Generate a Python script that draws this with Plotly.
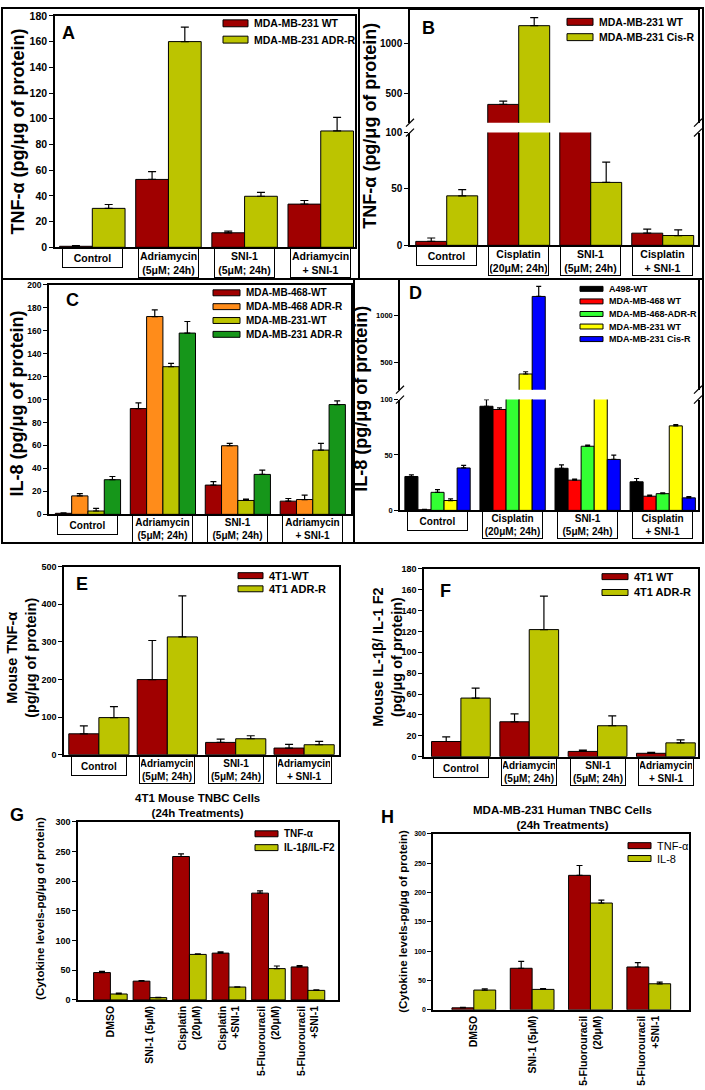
import plotly.graph_objects as go

W, H = 705, 1090
FONT = "Liberation Sans, Arial, Helvetica, sans-serif"

RED = "#A00000"
OLIVE = "#BCC400"

# ---------------- data ----------------
cat_adr = ["Control", "Adriamycin<br>(5μM; 24h)", "SNI-1<br>(5μM; 24h)", "Adriamycin<br>+ SNI-1"]
cat_cis = ["Control", "Cisplatin<br>(20μM; 24h)", "SNI-1<br>(5μM; 24h)", "Cisplatin<br>+ SNI-1"]
cat_g = ["DMSO", "SNI-1 (5μM)", "Cisplatin<br>(20μM)", "Cisplatin<br>+SNI-1",
         "5-Fluorouracil<br>(20μM)", "5-Fluorouracil<br>+SNI-1"]
cat_h = ["DMSO", "SNI-1 (5μM)", "5-Fluorouracil<br>(20μM)", "5-Fluorouracil<br>+SNI-1"]

# A: TNF-a, MDA-MB-231 WT vs ADR-R
a_wt = [0.8, 52.8, 11.3, 33.6]
a_wt_err = [0.5, 6.0, 1.3, 2.8]
a_adr = [30.3, 160.0, 39.7, 90.5]
a_adr_err = [3.0, 11.3, 3.0, 10.5]

# B: TNF-a, MDA-MB-231 WT vs Cis-R
b_wt = [3.5, 385, 150, 10.8]
b_wt_err = [3.0, 33, 10, 3.5]
b_cis = [43.9, 1181, 55.8, 8.7]
b_cis_err = [5.5, 82, 18, 5.0]

# C: IL-8
c_468wt = [0.9, 92.2, 25.5, 11.5]
c_468wt_err = [0.3, 4.9, 3.0, 2.3]
c_468adr = [16.1, 172.4, 59.8, 12.9]
c_468adr_err = [2.0, 5.8, 2.0, 3.8]
c_231wt = [2.9, 128.7, 12.1, 56.0]
c_231wt_err = [2.3, 2.9, 1.1, 5.8]
c_231adr = [30.2, 158.0, 34.8, 95.7]
c_231adr_err = [2.8, 10.1, 3.7, 3.2]

# D: IL-8, cisplatin
d_a498 = [30.6, 94.0, 38.0, 25.8]
d_a498_err = [1.5, 6.0, 3.0, 3.0]
d_468wt = [0.6, 91.1, 27.3, 12.8]
d_468wt_err = [0.3, 1.5, 1.0, 1.0]
d_468adr = [16.3, 150, 57.9, 15.1]
d_468adr_err = [2.4, 5, 1.0, 0.8]
d_231wt = [8.9, 377, 150, 76.3]
d_231wt_err = [1.5, 24, 5, 1.2]
d_231cis = [38.3, 1200, 46.0, 11.3]
d_231cis_err = [2.4, 106, 3.9, 1.2]

# E: mouse TNF-a
e_wt = [55.5, 199.8, 32.6, 17.6]
e_wt_err = [21, 104, 9, 9.7]
e_adr = [98.6, 313.4, 42.3, 26.4]
e_adr_err = [29, 109, 8, 8.8]

# F: mouse IL-1b / IL-1 F2
f_wt = [14.5, 33.4, 5.0, 3.2]
f_wt_err = [4.4, 7.6, 1.3, 1.0]
f_adr = [56.1, 121.7, 29.6, 13.2]
f_adr_err = [9.5, 32, 9.5, 2.9]

# G: 4T1 cells
g_tnf = [46.1, 31.7, 241.7, 78.9, 180.0, 55.6]
g_tnf_err = [2.2, 1.1, 4.4, 2.2, 3.9, 2.2]
g_il1 = [10.0, 3.9, 76.7, 21.7, 52.8, 16.1]
g_il1_err = [1.7, 0.5, 1.1, 0.5, 4.4, 1.1]

# H: MDA-MB-231 cells
h_tnf = [3.4, 70.8, 229.2, 73.0]
h_tnf_err = [1.0, 11.8, 16.8, 7.3]
h_il8 = [33.7, 34.8, 182.0, 44.4]
h_il8_err = [2.2, 1.2, 5.0, 2.8]


def fx(x):
    return x / W


def fy(y):
    return 1 - y / H


def names(n):
    s = "" if n == 1 else str(n)
    return "x" + s, "y" + s, "xaxis" + s, "yaxis" + s


fig = go.Figure()
layout = {}


def bars(n, cats, series, group_w, cap=4):
    xr, yr, _, _ = names(n)
    w = group_w / len(series)
    for i, (name, vals, errs, color) in enumerate(series):
        fig.add_trace(go.Bar(
            x=cats, y=vals, width=w, offset=-group_w / 2 + i * w, name=name,
            marker=dict(color=color, line=dict(color="black", width=1)),
            error_y=dict(type="data", symmetric=False, array=errs,
                         arrayminus=[0] * len(errs), color="black",
                         thickness=1.2, width=cap),
            xaxis=xr, yaxis=yr, showlegend=False))


def axes(n, xpx, ypx, xrange, yrange, cats, tickvals, tsize, xline="box",
         xlabels=False, xsize=10):
    xr, yr, xk, yk = names(n)
    xa = dict(domain=[fx(xpx[0]), fx(xpx[1])], range=xrange, anchor=yr,
              type="category", categoryorder="array", categoryarray=cats,
              showline=True, linecolor="black", linewidth=1.5,
              mirror=(xline == "box"), showgrid=False, zeroline=False,
              ticks="", showticklabels=xlabels, fixedrange=True)
    if xline == "top":
        xa["side"] = "top"
    if xlabels:
        xa.update(tickangle=-90, tickfont=dict(family=FONT, size=xsize, color="black", weight="bold"))
    layout[xk] = xa
    layout[yk] = dict(domain=[fy(ypx[1]), fy(ypx[0])], range=yrange, anchor=xr,
                      showline=True, linecolor="black", linewidth=1.5, mirror=True,
                      showgrid=False, zeroline=False, ticks="outside", ticklen=4,
                      tickwidth=1, tickcolor="black", tickvals=tickvals,
                      tickfont=dict(family=FONT, size=tsize, color="black", weight="bold"),
                      fixedrange=True)


def cat_boxes(n, cats, ytop, box_w, size=10.5):
    xr = names(n)[0]
    for c in cats:
        one = "<br>" not in c
        fig.add_annotation(
            xref=xr, yref="paper", x=c, y=fy(ytop), text=c, showarrow=False,
            xanchor="center", yanchor="top", width=box_w,
            height=16 if one else None, bordercolor="black", borderwidth=1,
            borderpad=1, bgcolor="white", align="center",
            font=dict(family=FONT, size=size, color="black", weight="bold"))


def legend(x0, y0, dy, entries, size, sw=25, sh=7, bold=True):
    for i, (name, color) in enumerate(entries):
        yc = y0 + i * dy
        fig.add_shape(type="rect", xref="paper", yref="paper",
                      x0=fx(x0), x1=fx(x0 + sw), y0=fy(yc + sh / 2), y1=fy(yc - sh / 2),
                      fillcolor=color, line=dict(color="black", width=1))
        fig.add_annotation(xref="paper", yref="paper", x=fx(x0 + sw + 4), y=fy(yc),
                           text=name, showarrow=False, xanchor="left", yanchor="middle",
                           font=dict(family=FONT, size=size, color="black",
                                     weight="bold" if bold else "normal"))


def text(x, y, s, size, angle=0, bold=True):
    fig.add_annotation(xref="paper", yref="paper", x=fx(x), y=fy(y), text=s,
                       showarrow=False, xanchor="center", yanchor="middle",
                       textangle=angle, align="center",
                       font=dict(family=FONT, size=size, color="black",
                                 weight="bold" if bold else "normal"))


def break_marks(xs, ys):
    for x in xs:
        for y in ys:
            fig.add_shape(type="line", xref="paper", yref="paper",
                          x0=fx(x - 4), y0=fy(y + 4), x1=fx(x + 4), y1=fy(y - 4),
                          line=dict(color="black", width=1.2))


# ---------------- panel A ----------------
sA = [("MDA-MB-231 WT", a_wt, a_wt_err, RED), ("MDA-MB-231 ADR-R", a_adr, a_adr_err, OLIVE)]
bars(1, cat_adr, sA, 0.86)
axes(1, (55, 355), (10, 244), [-0.49, 3.45], [0, 180], cat_adr, list(range(0, 181, 20)), 10.5)
cat_boxes(1, cat_adr, 245, 57)
legend(223, 17.5, 16.5, [(s[0], s[3]) for s in sA], 10.5)
text(68, 27, "A", 18)
text(18, 127, "TNF-α (pg/μg of protein)", 18, -90)

# ---------------- panel B (broken axis) ----------------
sB = [("MDA-MB-231 WT", b_wt, b_wt_err, RED), ("MDA-MB-231 Cis-R", b_cis, b_cis_err, OLIVE)]
bars(2, cat_cis, sB, 0.86)
bars(3, cat_cis, sB, 0.86)
axes(2, (410, 698), (128, 242), [-0.51, 3.49], [0, 100], cat_cis, [0, 50, 100], 10, xline="bottom")
axes(3, (410, 698), (4, 118), [-0.51, 3.49], [200, 1340], cat_cis, [500, 1000], 10, xline="top")
cat_boxes(2, cat_cis, 243, 57)
break_marks([410, 698], [128, 118])
legend(567, 16, 15.5, [(s[0], s[3]) for s in sB], 10.5, sw=26)
text(428, 22, "B", 18)
text(370, 121, "TNF-α (pg/μg of protein)", 18, -90)

# ---------------- panel C ----------------
sC = [("MDA-MB-468-WT", c_468wt, c_468wt_err, RED),
      ("MDA-MB-468 ADR-R", c_468adr, c_468adr_err, "#FF8C1A"),
      ("MDA-MB-231-WT", c_231wt, c_231wt_err, OLIVE),
      ("MDA-MB-231 ADR-R", c_231adr, c_231adr_err, "#16961A")]
bars(4, cat_adr, sC, 0.87, cap=3)
axes(4, (49, 351), (282, 514), [-0.52, 3.51], [0, 200], cat_adr, list(range(0, 201, 20)), 8.5)
cat_boxes(4, cat_adr, 515, 57, 10)
legend(213, 290, 14, [(s[0], s[3]) for s in sC], 10, sw=27, sh=6)
text(72, 297, "C", 18)
text(17, 402, "IL-8 (pg/μg of protein)", 18, -90)

# ---------------- panel D (broken axis) ----------------
sD = [("A498-WT", d_a498, d_a498_err, "black"),
      ("MDA-MB-468 WT", d_468wt, d_468wt_err, "#FF0000"),
      ("MDA-MB-468-ADR-R", d_468adr, d_468adr_err, "#33FF33"),
      ("MDA-MB-231 WT", d_231wt, d_231wt_err, "#FFFF00"),
      ("MDA-MB-231 Cis-R", d_231cis, d_231cis_err, "#0000FF")]
bars(5, cat_cis, sD, 0.87, cap=2.5)
bars(6, cat_cis, sD, 0.87, cap=2.5)
axes(5, (400, 698), (398, 510), [-0.5, 3.47], [0, 100], cat_cis, [0, 50, 100], 7.5, xline="bottom")
axes(6, (400, 698), (277, 388), [-0.5, 3.47], [210, 1375], cat_cis, [500, 1000], 7.5, xline="top")
cat_boxes(5, cat_cis, 511, 57, 10)
break_marks([400, 698], [398, 388])
legend(580, 286, 12.7, [(s[0], s[3]) for s in sD], 9, sw=23, sh=5)
text(415, 290, "D", 18)
text(361, 397, "IL-8 (pg/μg of protein)", 18, -90)

# ---------------- panel E ----------------
sE = [("4T1-WT", e_wt, e_wt_err, RED), ("4T1 ADR-R", e_adr, e_adr_err, OLIVE)]
bars(7, cat_adr, sE, 0.88)
axes(7, (64, 339), (567, 757), [-0.51, 3.51], [0, 500], cat_adr, list(range(0, 501, 100)), 9)
cat_boxes(7, cat_adr, 758, 52, 10)
legend(238, 576, 13.3, [(s[0], s[3]) for s in sE], 11, sh=6)
text(82, 584, "E", 18)
text(22, 659, "Mouse TNF-α<br>(pg/μg of protein)", 14.5, -90)

# ---------------- panel F ----------------
sF = [("4T1 WT", f_wt, f_wt_err, RED), ("4T1 ADR-R", f_adr, f_adr_err, OLIVE)]
bars(8, cat_adr, sF, 0.86)
axes(8, (424, 698), (569, 759), [-0.54, 3.47], [0, 180], cat_adr, list(range(0, 181, 20)), 9)
cat_boxes(8, cat_adr, 760, 52, 10)
legend(602, 577, 16, [(s[0], s[3]) for s in sF], 11, sw=26, sh=6)
text(445, 592, "F", 18)
text(388, 659, "Mouse IL-1β/ IL-1 F2<br>(pg/μg of protein)", 14.5, -90)

# ---------------- panel G ----------------
sG = [("TNF-α", g_tnf, g_tnf_err, RED), ("IL-1β/IL-F2", g_il1, g_il1_err, OLIVE)]
bars(9, cat_g, sG, 0.85, cap=3)
axes(9, (78, 338), (825, 1005), [-0.82, 5.76], [0, 300], cat_g, list(range(0, 301, 50)), 9,
     xlabels=True, xsize=10.5)
legend(255, 837, 14, [(s[0], s[3]) for s in sG], 10, sw=23, sh=6)
text(17, 818, "G", 18)
text(197, 808, "4T1 Mouse TNBC Cells<br>(24h Treatments)", 11.5)
text(40, 913, "(Cytokine levels-pg/μg of protein)", 11.5, -90)

# ---------------- panel H ----------------
sH = [("TNF-α", h_tnf, h_tnf_err, RED), ("IL-8", h_il8, h_il8_err, OLIVE)]
bars(10, cat_h, sH, 0.75, cap=3)
axes(10, (433, 689), (837, 1015), [-0.7, 3.69], [0, 300], cat_h, list(range(0, 301, 50)), 7,
     xlabels=True, xsize=10.5)
legend(628, 849, 13, [(s[0], s[3]) for s in sH], 11, sw=23, sh=6, bold=False)
text(387, 820, "H", 18)
text(562, 821, "MDA-MB-231 Human TNBC Cells<br>(24h Treatments)", 11.5)
text(403, 926, "(Cytokine levels-pg/μg of protein)", 11.5, -90)

# ---------------- panel frames ----------------
for x0, y0, x1, y1 in [(2, 2, 359, 276), (359, 2, 703, 276), (2, 276, 354, 543), (354, 276, 703, 543)]:
    fig.add_shape(type="rect", xref="paper", yref="paper", x0=fx(x0), x1=fx(x1),
                  y0=fy(y1), y1=fy(y0), line=dict(color="black", width=2))

fig.update_layout(
    **layout,
    barmode="overlay",
    width=W, height=H, autosize=False,
    margin=dict(l=0, r=0, t=0, b=0),
    plot_bgcolor="white", paper_bgcolor="white",
    font=dict(family=FONT, color="black"),
    showlegend=False,
)

fig.write_html("out.html", config={"displayModeBar": False},
               post_script="document.body.style.margin='0';document.body.style.padding='0';"
                           "document.body.style.overflow='hidden';")
